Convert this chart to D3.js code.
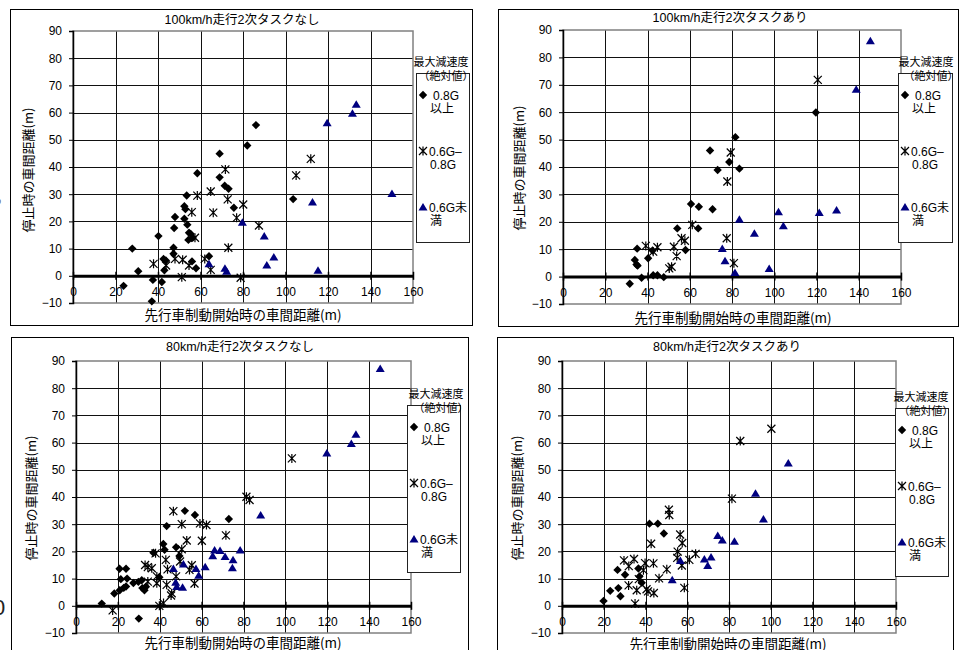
<!DOCTYPE html>
<html>
<head>
<meta charset="utf-8">
<script src="https://cdn.jsdelivr.net/npm/d3@7"></script>
<style>
  body { margin: 0; background: #fff; }
  svg { display: block; font-family: "Liberation Sans", Arial, "Noto Sans CJK JP", sans-serif; }
  .cjk { font-family: "Noto Sans CJK JP", "Liberation Sans", sans-serif; }
  .mix { font-family: "Liberation Sans", Arial, "Noto Sans CJK JP", sans-serif; }
</style>
</head>
<body>
<svg id="chart"></svg>
<script>
// axis ticks
var xTicks = [0, 20, 40, 60, 80, 100, 120, 140, 160];
var yTicks = [-10, 0, 10, 20, 30, 40, 50, 60, 70, 80, 90];

var titles = ["100km/h走行2次タスクなし", "100km/h走行2次タスクあり", "80km/h走行2次タスクなし", "80km/h走行2次タスクあり"];
var xLabel = "先行車制動開始時の車間距離(m)";
var yLabel = "停止時の車間距離(m)";
var legendTitle = ["最大減速度", "（絶対値）"];
var legendItems = [["0.8G", "以上"], ["0.6G–", "0.8G"], ["0.6G未", "満"]];

// 100km/h なし
var dia1 = [[23.8,-3.7],[27.9,10.0],[30.7,1.7],[37.1,-9.4],[37.6,-1.5],[40.2,14.6],[41.8,-2.3],[42.6,6.2],[43.7,5.6],[43.0,2.0],[47.3,10.3],[47.3,8.1],[47.6,17.6],[48.0,21.6],[53.5,29.5],[52.4,25.6],[52.9,24.5],[52.4,21.0],[53.8,18.8],[54.6,15.8],[55.4,15.4],[54.3,13.2],[56.3,14.0],[56.0,5.3],[57.9,2.8],[58.5,37.7],[64.0,7.2],[69.0,44.9],[69.0,36.2],[71.4,33.1],[73.2,32.0],[75.7,25.0],[82.0,47.9],[86.1,55.4],[103.6,28.2]];
var ast1 = [[37.9,4.4],[43.8,3.8],[48.0,6.2],[51.2,-0.5],[51.6,5.9],[54.6,3.8],[55.9,23.4],[57.4,14.0],[58.5,29.5],[62.0,6.2],[64.8,31.0],[64.8,2.2],[66.0,23.2],[71.7,39.1],[72.8,28.1],[73.1,10.3],[77.0,21.3],[78.9,-0.7],[80.1,26.2],[87.5,18.5],[105.0,36.9],[111.9,43.0]];
var tri1 = [[64.0,4.4],[71.5,2.8],[72.3,1.7],[79.7,19.7],[90.0,14.6],[91.2,4.0],[94.5,6.9],[112.7,27.1],[115.3,2.0],[119.6,56.3],[131.5,59.8],[133.3,63.1],[150.1,30.3]];

// 100km/h あり
var dia2 = [[31.6,-2.6],[34.0,6.1],[34.8,4.4],[35.3,4.0],[35.1,10.2],[37.2,-0.4],[40.3,6.7],[42.4,9.5],[42.7,0.5],[44.7,0.5],[47.7,-0.2],[54.1,17.6],[58.0,9.7],[60.6,26.5],[64.3,25.5],[64.0,17.6],[69.6,46.0],[70.8,24.6],[73.2,38.9],[78.7,41.8],[81.6,50.9],[83.5,39.4],[119.7,59.9]];
var ast2 = [[39.2,11.2],[42.7,9.1],[44.7,10.7],[50.3,3.0],[51.4,3.6],[52.5,10.9],[53.8,7.5],[56.1,14.0],[57.7,13.1],[61.2,18.9],[77.5,14.0],[77.8,34.7],[79.4,45.3],[80.9,4.9],[120.6,71.8]];
var tri2 = [[75.4,10.3],[76.7,5.8],[81.4,1.5],[83.5,20.9],[90.6,15.8],[97.6,3.0],[102.0,23.7],[104.3,18.6],[121.3,23.4],[129.5,24.3],[138.8,68.4],[145.5,86.1]];

// 80km/h なし
var dia3 = [[12.3,0.8],[18.3,4.5],[20.8,13.6],[23.9,13.6],[21.4,9.8],[24.4,10.0],[22.8,6.6],[20.9,5.7],[23.9,7.1],[27.4,8.4],[29.8,8.8],[31.4,9.4],[31.7,6.5],[32.7,5.7],[33.4,7.0],[30.0,-4.7],[37.0,19.5],[39.8,10.5],[41.7,22.7],[42.3,20.6],[43.3,29.3],[47.8,21.5],[49.4,18.3],[52.0,34.9],[56.8,33.4],[73.0,31.9]];
var ast3 = [[17.5,-1.7],[33.0,15.0],[34.3,14.2],[36.2,13.8],[34.3,8.9],[38.0,19.3],[38.6,10.8],[38.6,8.3],[39.8,0.0],[41.8,1.0],[42.9,16.9],[43.3,7.7],[43.7,13.4],[45.7,4.6],[45.4,3.8],[46.5,34.8],[50.5,30.0],[47.8,10.8],[49.7,16.3],[50.5,20.8],[52.9,24.0],[54.2,13.2],[55.3,14.9],[56.6,8.2],[59.2,30.3],[62.3,29.7],[60.1,23.9],[71.6,25.9],[81.4,40.1],[82.9,38.9],[103.1,54.2]];
var tri3 = [[46.5,13.7],[47.6,8.7],[48.1,7.1],[51.3,15.4],[50.9,6.8],[57.3,13.7],[58.6,11.2],[61.7,14.4],[65.3,18.4],[66.2,20.5],[68.8,20.3],[71.2,18.1],[75.0,16.9],[74.7,14.0],[78.4,20.5],[88.2,33.4],[119.8,56.2],[131.5,59.7],[133.7,63.1],[145.3,87.2]];

// 80km/h あり
var dia4 = [[19.9,1.8],[23.1,5.5],[26.6,13.2],[27.0,6.5],[28.0,3.5],[30.2,11.4],[36.6,13.7],[37.1,10.8],[38.2,8.5],[41.9,30.2],[45.9,30.2],[48.8,26.6]];
var ast4 = [[29.7,16.7],[32.0,14.6],[31.9,7.5],[34.5,17.2],[35.0,0.8],[35.8,5.7],[36.8,9.8],[39.0,13.1],[40.5,6.1],[41.2,5.3],[39.8,15.7],[42.7,22.8],[43.8,15.6],[44.0,4.7],[46.5,10.1],[50.2,13.4],[51.2,35.3],[51.4,33.4],[55.4,19.9],[55.2,17.6],[56.6,26.2],[57.6,23.1],[57.4,14.8],[58.6,6.6],[61.0,16.9],[64.0,19.1],[81.4,39.4],[85.4,60.6],[100.3,65.1]];
var tri4 = [[52.8,9.6],[56.7,16.7],[68.2,17.2],[69.8,14.8],[71.4,17.9],[74.6,25.8],[76.8,24.2],[82.6,23.7],[92.7,41.4],[96.5,31.9],[108.4,52.5]];

var width = 962, height = 650;
var svg = d3.select("#chart").attr("width", width).attr("height", height);

// layout of the four panels
var panels = [
  {box: [10, 9, 462, 316], plot: [73, 413, 31, 303], legend: [416, 73, 53, 169], ltx: 441, tx: 242, ty: 24, ylx: 28, yly: 170, xlx: 243, xly: 320, data: [dia1, ast1, tri1]},
  {box: [498, 9, 460, 317], plot: [563, 901, 30, 304], legend: [898, 73, 54, 169], ltx: 926, tx: 730, ty: 22, ylx: 519, yly: 168, xlx: 733, xly: 323, data: [dia2, ast2, tri2]},
  {box: [11, 337, 457, 330], plot: [76, 411, 361, 633], legend: [407, 405, 53, 167], ltx: 436, tx: 240, ty: 351, ylx: 31, yly: 498, xlx: 243, xly: 648, data: [dia3, ast3, tri3]},
  {box: [497, 337, 456, 330], plot: [562, 896, 361, 633], legend: [895, 408, 53, 168], ltx: 921, tx: 727, ty: 351, ylx: 517, yly: 498, xlx: 728, xly: 649, data: [dia4, ast4, tri4]}
];

function marker(sel, type) {
  if (type === 0) {
    sel.append("path").attr("d", "M0,-4.2L4.2,0L0,4.2L-4.2,0Z").attr("fill", "#000");
  } else if (type === 1) {
    sel.append("path").attr("d", "M-4,-4L4,4M-4,4L4,-4M0,-4.5L0,4.5")
      .attr("stroke", "#000").attr("stroke-width", 1.2).attr("fill", "none");
  } else {
    sel.append("path").attr("d", "M0,-4L4.5,3.5L-4.5,3.5Z").attr("fill", "#000080");
  }
}

panels.forEach(function (p, i) {
  var g = svg.append("g");

  g.append("rect")
    .attr("x", p.box[0] + 0.5).attr("y", p.box[1] + 0.5)
    .attr("width", p.box[2]).attr("height", p.box[3])
    .attr("fill", "#fff").attr("stroke", "#000").attr("stroke-width", 1);

  var x = d3.scaleLinear().domain([0, 160]).range([p.plot[0], p.plot[1]]);
  var y = d3.scaleLinear().domain([-10, 90]).range([p.plot[3], p.plot[2]]);

  // grid
  g.append("g").selectAll("line")
    .data(xTicks.slice(1, -1))
    .enter().append("line")
    .attr("x1", function (d) { return Math.round(x(d)) + 0.5; })
    .attr("x2", function (d) { return Math.round(x(d)) + 0.5; })
    .attr("y1", y(90)).attr("y2", y(-10))
    .attr("stroke", "#111").attr("stroke-width", 1);
  g.append("g").selectAll("line")
    .data(yTicks.filter(function (d) { return d > 0 && d < 90; }))
    .enter().append("line")
    .attr("y1", function (d) { return Math.round(y(d)) + 0.5; })
    .attr("y2", function (d) { return Math.round(y(d)) + 0.5; })
    .attr("x1", x(0)).attr("x2", x(160))
    .attr("stroke", "#111").attr("stroke-width", 1);

  // plot border
  g.append("rect")
    .attr("x", x(0)).attr("y", y(90))
    .attr("width", x(160) - x(0)).attr("height", y(-10) - y(90))
    .attr("fill", "none").attr("stroke", "#808080").attr("stroke-width", 1.5);

  // y axis
  var ya = g.append("g")
    .attr("transform", "translate(" + x(0) + ",0)")
    .call(d3.axisLeft(y).tickValues(yTicks).tickSize(4).tickPadding(7)
      .tickFormat(function (d) { return d < 0 ? "−" + Math.abs(d) : d; }));
  ya.select(".domain").attr("stroke", "#000").attr("stroke-width", 1.5);
  ya.selectAll("text").attr("font-size", 12).attr("fill", "#000")
    .attr("font-family", "'Liberation Sans', Arial, sans-serif");

  // x axis at zero
  var xa = g.append("g")
    .attr("transform", "translate(0," + y(0) + ")")
    .call(d3.axisBottom(x).tickValues(xTicks).tickSizeInner(4).tickSizeOuter(0).tickPadding(8));
  xa.select(".domain").attr("stroke", "#000").attr("stroke-width", 3);
  xa.selectAll(".tick line").attr("y1", -4).attr("stroke-width", 1.5);
  xa.selectAll("text").attr("font-size", 12).attr("fill", "#000")
    .attr("font-family", "'Liberation Sans', Arial, sans-serif");

  // points
  p.data.forEach(function (series, k) {
    g.append("g").selectAll("g")
      .data(series)
      .enter().append("g")
      .attr("transform", function (d) { return "translate(" + x(d[0]) + "," + y(d[1]) + ")"; })
      .each(function () { marker(d3.select(this), k); });
  });

  // titles
  g.append("text").attr("class", "mix")
    .attr("x", p.tx).attr("y", p.ty).attr("text-anchor", "middle")
    .attr("font-size", 12.5).text(titles[i]);
  g.append("text").attr("class", "cjk")
    .attr("transform", "translate(" + (p.ylx + 5) + "," + p.yly + ") rotate(-90)")
    .attr("text-anchor", "middle").attr("font-size", 13).text(yLabel);
  g.append("text").attr("class", "cjk")
    .attr("x", p.xlx).attr("y", p.xly).attr("text-anchor", "middle")
    .attr("font-size", 13.5).text(xLabel);

  // legend
  var L = p.legend;
  g.append("rect")
    .attr("x", L[0] + 0.5).attr("y", L[1] + 0.5).attr("width", L[2]).attr("height", L[3])
    .attr("fill", "#fff").attr("stroke", "#222").attr("stroke-width", 1);
  g.append("text").attr("class", "cjk")
    .attr("x", p.ltx).attr("y", L[1] - 7).attr("text-anchor", "middle")
    .attr("font-size", 11).text(legendTitle[0]);
  g.append("text").attr("class", "cjk")
    .attr("x", p.ltx + 5).attr("y", L[1] + 7).attr("text-anchor", "middle")
    .attr("font-size", 11).text(legendTitle[1]);

  legendItems.forEach(function (lab, k) {
    var yy = L[1] + 22 + k * 56;
    marker(g.append("g").attr("transform", "translate(" + (L[0] + 7) + "," + yy + ")"), k);
    g.append("text").attr("class", "mix")
      .attr("x", L[0] + (k === 0 ? 17 : 13)).attr("y", yy + 4.5)
      .attr("font-size", 12).text(lab[0]);
    g.append("text").attr("class", "mix")
      .attr("x", L[0] + 14).attr("y", yy + 18)
      .attr("font-size", 12).text(lab[1]);
  });
});

// stray fragments at the left edge
svg.append("text").attr("x", -4).attr("y", 204).attr("font-size", 9).attr("fill", "#555").text("o");
svg.append("text").attr("x", -7).attr("y", 615).attr("font-size", 22).attr("fill", "#222").text("0");
</script>
</body>
</html>
